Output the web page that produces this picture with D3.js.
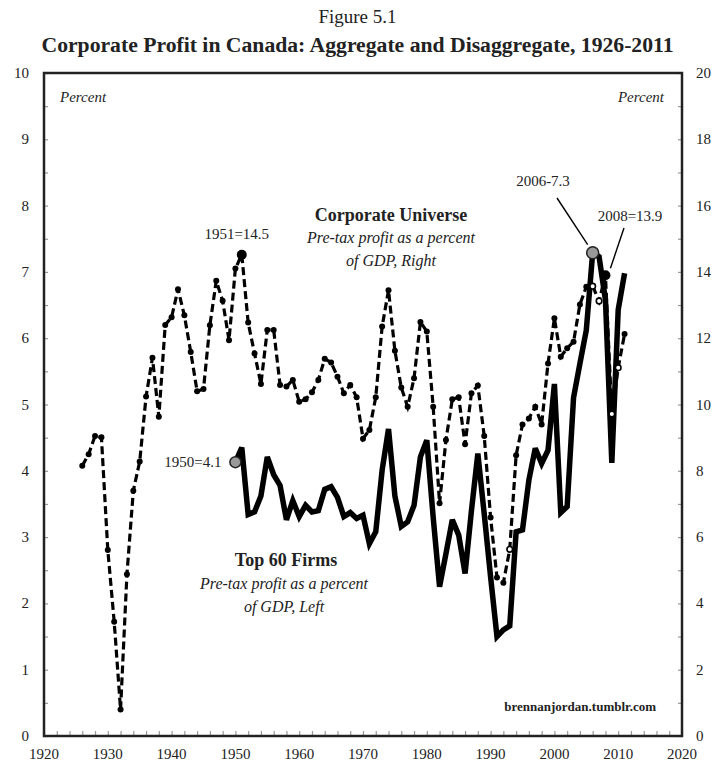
<!DOCTYPE html>
<html>
<head>
<meta charset="utf-8">
<script src="https://cdn.jsdelivr.net/npm/d3@7"></script>
<style>
  html, body { margin: 0; padding: 0; background: #fff; overflow: hidden; }
  svg { display: block; }
  text { font-family: "Liberation Serif", "DejaVu Serif", serif; fill: #222; }
</style>
</head>
<body>
<svg id="mainsvg" width="715" height="765"></svg>
<script>
// data
const universeYears = [
  1926, 1927, 1928, 1929, 1930, 1931, 1932, 1933, 1934, 1935,
  1936, 1937, 1938, 1939, 1940, 1941, 1942, 1943, 1944, 1945,
  1946, 1947, 1948, 1949, 1950, 1951, 1952, 1953, 1954, 1955,
  1956, 1957, 1958, 1959, 1960, 1961, 1962, 1963, 1964, 1965,
  1966, 1967, 1968, 1969, 1970, 1971, 1972, 1973, 1974, 1975,
  1976, 1977, 1978, 1979, 1980, 1981, 1982, 1983, 1984, 1985,
  1986, 1987, 1988, 1989, 1990, 1991, 1992, 1993, 1994, 1995,
  1996, 1997, 1998, 1999, 2000, 2001, 2002, 2003, 2004, 2005,
  2006, 2007, 2008, 2009, 2010, 2011];
// corporate universe, pre-tax profit % of GDP (right axis)
const universeValues = [
  8.15, 8.50, 9.05, 9.01, 5.61, 3.45, 0.80, 4.88, 7.40, 8.28,
  10.24, 11.41, 9.63, 12.40, 12.63, 13.48, 12.69, 11.58, 10.40, 10.47,
  12.39, 13.73, 13.13, 11.94, 14.10, 14.52, 12.47, 11.54, 10.62, 12.25,
  12.25, 10.59, 10.54, 10.74, 10.08, 10.16, 10.37, 10.74, 11.38, 11.27,
  10.84, 10.34, 10.59, 10.22, 8.97, 9.23, 10.22, 12.35, 13.45, 11.62,
  10.51, 9.93, 10.79, 12.49, 12.20, 9.93, 7.02, 8.93, 10.16, 10.22,
  8.80, 10.34, 10.57, 9.05, 6.59, 4.78, 4.62, 5.63, 8.47, 9.40,
  9.58, 9.93, 9.40, 11.24, 12.60, 11.44, 11.70, 11.89, 13.02, 13.55,
  13.57, 13.12, 13.90, 9.71, 11.11, 12.13];
const hollowYears = [1993, 2006, 2007, 2009, 2010];

const top60Years = [
  1950, 1951, 1952, 1953, 1954, 1955, 1956, 1957, 1958, 1959,
  1960, 1961, 1962, 1963, 1964, 1965, 1966, 1967, 1968, 1969,
  1970, 1971, 1972, 1973, 1974, 1975, 1976, 1977, 1978, 1979,
  1980, 1981, 1982, 1983, 1984, 1985, 1986, 1987, 1988, 1989,
  1990, 1991, 1992, 1993, 1994, 1995, 1996, 1997, 1998, 1999,
  2000, 2001, 2002, 2003, 2004, 2005, 2006, 2007, 2008, 2009,
  2010, 2011];
// top 60 firms, pre-tax profit % of GDP (left axis)
const top60Values = [
  4.13, 4.35, 3.34, 3.38, 3.62, 4.21, 3.94, 3.78, 3.26, 3.55,
  3.31, 3.48, 3.38, 3.40, 3.72, 3.76, 3.60, 3.31, 3.37, 3.28,
  3.33, 2.90, 3.08, 4.01, 4.63, 3.62, 3.16, 3.23, 3.48, 4.21,
  4.46, 3.30, 2.25, 2.75, 3.26, 3.03, 2.45, 3.40, 4.26, 3.35,
  2.40, 1.50, 1.60, 1.66, 3.08, 3.11, 3.86, 4.34, 4.11, 4.31,
  5.31, 3.37, 3.46, 5.10, 5.62, 6.12, 7.29, 7.23, 6.58, 4.12,
  6.43, 6.98];

const xTickLabels = [1920, 1930, 1940, 1950, 1960, 1970, 1980, 1990, 2000, 2010, 2020];
const leftTickLabels = [0, 1, 2, 3, 4, 5, 6, 7, 8, 9, 10];
const rightTickLabels = [0, 2, 4, 6, 8, 10, 12, 14, 16, 18, 20];

const svg = d3.select('#mainsvg');
const width = +svg.attr('width');
const height = +svg.attr('height');
const margin = { top: 73, right: 33, bottom: 29, left: 44 };

// scales map straight to page coordinates, no group transform
const xScale = d3.scaleLinear().domain([1920, 2020]).range([margin.left, width - margin.right]);
const yLeft = d3.scaleLinear().domain([0, 10]).range([height - margin.bottom, margin.top]);
const yRight = d3.scaleLinear().domain([0, 20]).range([height - margin.bottom, margin.top]);
const x0 = margin.left, x1 = width - margin.right;
const yBottom = height - margin.bottom, yTop = margin.top;

// titles
svg.append('text').text('Figure 5.1')
  .attr('x', width / 2).attr('y', 23)
  .attr('text-anchor', 'middle').attr('font-size', 19);
svg.append('text').text('Corporate Profit in Canada: Aggregate and Disaggregate, 1926-2011')
  .attr('x', width / 2).attr('y', 52)
  .attr('text-anchor', 'middle').attr('font-size', 20).attr('font-weight', 'bold')
  .attr('textLength', 632).attr('lengthAdjust', 'spacingAndGlyphs');

// inward minor ticks
const xAxis = d3.axisTop(xScale).ticks(40).tickSize(5).tickFormat('');
const yAxisL = d3.axisRight(yLeft).ticks(20).tickSize(4).tickFormat('');
const yAxisR = d3.axisLeft(yRight).ticks(20).tickSize(4).tickFormat('');
[svg.append('g').attr('transform', `translate(0, ${yBottom})`).call(xAxis),
 svg.append('g').attr('transform', `translate(${x0}, 0)`).call(yAxisL),
 svg.append('g').attr('transform', `translate(${x1}, 0)`).call(yAxisR)
].forEach(ax => {
  ax.selectAll('.domain').remove();
  ax.selectAll('line').attr('stroke', '#999').attr('stroke-width', 1.2);
});

// frame
svg.append('rect')
  .attr('x', x0).attr('y', yTop)
  .attr('width', x1 - x0).attr('height', yBottom - yTop)
  .attr('fill', 'none').attr('stroke', '#222').attr('stroke-width', 2.5);

// tick labels
svg.selectAll('.xlab').data(xTickLabels).enter().append('text')
  .attr('class', 'xlab')
  .attr('x', d => xScale(d)).attr('y', yBottom + 23)
  .attr('text-anchor', 'middle').attr('font-size', 15)
  .text(d => d);
svg.selectAll('.llab').data(leftTickLabels).enter().append('text')
  .attr('class', 'llab')
  .attr('x', x0 - 15).attr('y', d => yLeft(d) + 5)
  .attr('text-anchor', 'end').attr('font-size', 15)
  .text(d => d);
svg.selectAll('.rlab').data(rightTickLabels).enter().append('text')
  .attr('class', 'rlab')
  .attr('x', x1 + 14).attr('y', d => yRight(d) + 5)
  .attr('text-anchor', 'start').attr('font-size', 15)
  .text(d => d);

svg.append('text').text('Percent')
  .attr('x', x0 + 16).attr('y', yTop + 29).attr('font-style', 'italic').attr('font-size', 15);
svg.append('text').text('Percent')
  .attr('x', x1 - 18).attr('y', yTop + 29).attr('text-anchor', 'end')
  .attr('font-style', 'italic').attr('font-size', 15);

// series
const universe = universeYears.map((y, i) => ({ year: y, value: universeValues[i] }));
const top60 = top60Years.map((y, i) => ({ year: y, value: top60Values[i] }));

svg.append('path').datum(universe)
  .attr('fill', 'none').attr('stroke', '#000').attr('stroke-width', 3.2)
  .attr('stroke-dasharray', '8,4')
  .attr('d', d3.line().x(d => xScale(d.year)).y(d => yRight(d.value)));

svg.append('path').datum(top60)
  .attr('fill', 'none').attr('stroke', '#000').attr('stroke-width', 5.5)
  .attr('stroke-linejoin', 'miter').attr('stroke-miterlimit', 3)
  .attr('d', d3.line().x(d => xScale(d.year)).y(d => yLeft(d.value)));

svg.selectAll('.umark').data(universe).enter().append('circle')
  .attr('class', 'umark')
  .attr('cx', d => xScale(d.year)).attr('cy', d => yRight(d.value))
  .attr('r', d => hollowYears.includes(d.year) ? 2.8 : 3)
  .attr('fill', d => hollowYears.includes(d.year) ? '#fff' : '#000')
  .attr('stroke', '#000').attr('stroke-width', d => hollowYears.includes(d.year) ? 1.6 : 0);

// highlighted points
const u1951 = universe.find(d => d.year === 1951);
const u2008 = universe.find(d => d.year === 2008);
const t1950 = top60.find(d => d.year === 1950);
const t2006 = top60.find(d => d.year === 2006);

svg.append('circle').attr('cx', xScale(u1951.year)).attr('cy', yRight(u1951.value))
  .attr('r', 5).attr('fill', '#000');
svg.append('circle').attr('cx', xScale(u2008.year)).attr('cy', yRight(u2008.value))
  .attr('r', 5).attr('fill', '#000');
svg.append('circle').attr('cx', xScale(t1950.year)).attr('cy', yLeft(t1950.value))
  .attr('r', 5.5).attr('fill', '#999').attr('stroke', '#222').attr('stroke-width', 1.5);
svg.append('circle').attr('cx', xScale(t2006.year)).attr('cy', yLeft(t2006.value))
  .attr('r', 6).attr('fill', '#999').attr('stroke', '#222').attr('stroke-width', 1.5);

// annotations
svg.append('text').text('1951=14.5')
  .attr('x', xScale(u1951.year) - 5).attr('y', yRight(u1951.value) - 16)
  .attr('text-anchor', 'middle').attr('font-size', 15);
svg.append('text').text('1950=4.1')
  .attr('x', xScale(t1950.year) - 14).attr('y', yLeft(t1950.value) + 5)
  .attr('text-anchor', 'end').attr('font-size', 15);
svg.append('text').text('2006-7.3')
  .attr('x', x0 + 499).attr('y', yTop + 113)
  .attr('text-anchor', 'middle').attr('font-size', 15);
svg.append('line')
  .attr('x1', x0 + 513).attr('y1', yTop + 125)
  .attr('x2', xScale(t2006.year) - 5).attr('y2', yLeft(t2006.value) - 8)
  .attr('stroke', '#000').attr('stroke-width', 1.4);
svg.append('text').text('2008=13.9')
  .attr('x', x0 + 586).attr('y', yTop + 148)
  .attr('text-anchor', 'middle').attr('font-size', 15);
svg.append('line')
  .attr('x1', x0 + 580).attr('y1', yTop + 155)
  .attr('x2', xScale(u2008.year) + 5).attr('y2', yRight(u2008.value) - 7)
  .attr('stroke', '#000').attr('stroke-width', 1.4);

// series labels
svg.append('text').text('Corporate Universe')
  .attr('x', x0 + 347).attr('y', yTop + 148).attr('text-anchor', 'middle')
  .attr('font-size', 18).attr('font-weight', 'bold');
svg.append('text').text('Pre-tax profit as a percent')
  .attr('x', x0 + 347).attr('y', yTop + 170).attr('text-anchor', 'middle')
  .attr('font-size', 16).attr('font-style', 'italic');
svg.append('text').text('of GDP, Right')
  .attr('x', x0 + 347).attr('y', yTop + 193).attr('text-anchor', 'middle')
  .attr('font-size', 16).attr('font-style', 'italic');

svg.append('text').text('Top 60 Firms')
  .attr('x', x0 + 242).attr('y', yTop + 493).attr('text-anchor', 'middle')
  .attr('font-size', 18).attr('font-weight', 'bold');
svg.append('text').text('Pre-tax profit as a percent')
  .attr('x', x0 + 240).attr('y', yTop + 516).attr('text-anchor', 'middle')
  .attr('font-size', 16).attr('font-style', 'italic');
svg.append('text').text('of GDP, Left')
  .attr('x', x0 + 240).attr('y', yTop + 539).attr('text-anchor', 'middle')
  .attr('font-size', 16).attr('font-style', 'italic');

svg.append('text').text('brennanjordan.tumblr.com')
  .attr('x', x1 - 26).attr('y', yTop + 638).attr('text-anchor', 'end')
  .attr('font-size', 13).attr('font-weight', 'bold');
</script>
</body>
</html>
